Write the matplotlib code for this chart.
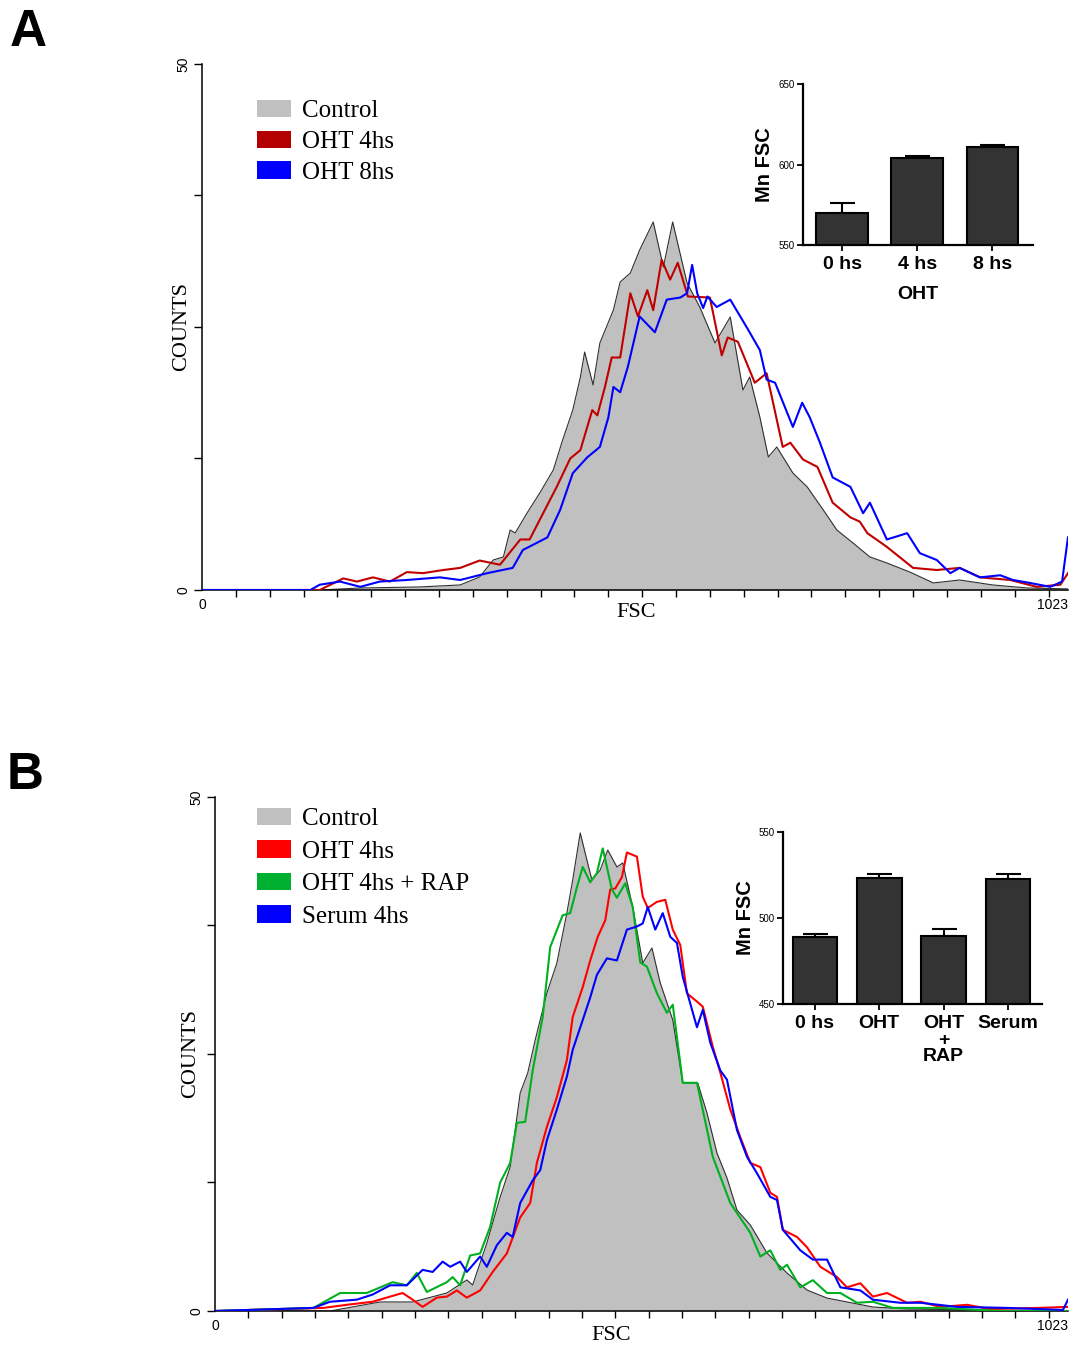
import numpy as np
import matplotlib
matplotlib.use('Agg')
import matplotlib.pyplot as plt
from matplotlib.patches import Patch

SERIF = 'Liberation Serif'
SANS = 'Liberation Sans'

# ---- Panel A: FSC histograms (channel, counts) ----
a_ctrl_ch = [0, 139, 187, 258, 305, 328, 344, 356, 364, 370, 384, 399, 415, 426, 438, 447, 452, 462, 470,
             486, 494, 506, 517, 533, 545, 556, 573, 588, 606, 624, 639, 647, 659, 669, 679, 698, 715,
             734, 750, 769, 789, 809, 836, 864, 895, 934, 975, 1023]
a_ctrl = [0, 0, 0.19, 0.29, 0.48, 1.24, 2.85, 3.14, 5.7, 5.42, 7.32, 9.22, 11.41, 14.26, 17.11, 20.25, 22.62,
          19.49, 23.48, 26.62, 29.28, 30.13, 32.32, 34.98, 30.7, 34.98, 29.18, 26.9, 23.48, 25.95, 19.01,
          20.25, 16.44, 12.64, 13.59, 11.12, 9.79, 7.6, 5.7, 4.47, 3.14, 2.57, 1.71, 0.67, 0.95, 0.48, 0.19, 0.1]

a_oht4_ch = [0, 139, 167, 183, 202, 222, 242, 261, 285, 305, 328, 352, 376, 387, 403, 419, 435, 447, 461,
             467, 476, 484, 494, 506, 515, 526, 533, 543, 553, 562, 574, 600, 614, 621, 633, 653, 667,
             686, 695, 710, 727, 745, 766, 777, 786, 809, 840, 868, 895, 919, 955, 986, 1014, 1023]
a_oht4 = [0, 0, 1.1, 0.8, 1.2, 0.8, 1.7, 1.6, 1.9, 2.1, 2.8, 2.4, 4.8, 4.8, 7.3, 9.8, 12.5, 13.3, 17.1,
          16.6, 19.3, 22.1, 22.1, 28.2, 26.0, 28.5, 26.6, 31.4, 29.5, 31.1, 27.9, 27.8, 22.3, 24.0, 23.6,
          19.7, 20.6, 13.6, 14.0, 12.4, 11.7, 8.3, 6.9, 6.5, 5.4, 4.1, 2.1, 1.9, 2.1, 1.2, 0.95, 0.3, 0.5, 1.6]

a_oht8_ch = [0, 128, 139, 163, 187, 210, 242, 281, 305, 337, 367, 379, 396, 408, 423, 438, 455, 470, 480,
             486, 494, 503, 517, 535, 549, 565, 573, 579, 585, 592, 597, 608, 624, 644, 659, 667, 677,
             698, 709, 718, 730, 745, 766, 781, 789, 809, 833, 848, 868, 884, 895, 919, 943, 958, 978,
             1002, 1016, 1023]
a_oht8 = [0, 0, 0.5, 0.8, 0.3, 0.8, 0.95, 1.2, 0.95, 1.6, 2.1, 3.8, 4.5, 5.0, 7.6, 11.1, 12.6, 13.6, 16.4,
          19.3, 18.8, 21.2, 26.0, 24.5, 27.6, 27.8, 28.2, 30.9, 28.2, 26.8, 27.9, 26.9, 27.6, 24.9, 22.8,
          20.0, 19.7, 15.5, 17.8, 16.4, 14.0, 10.7, 9.8, 7.3, 8.3, 4.8, 5.4, 3.5, 2.85, 1.6, 2.1, 1.2, 1.4,
          0.95, 0.67, 0.3, 0.8, 5.0]

# ---- Panel B ----
b_ctrl_ch = [0, 138, 198, 237, 278, 302, 309, 326, 342, 354, 366, 375, 384, 398, 410, 422, 429, 438, 446,
             452, 462, 471, 482, 489, 501, 513, 524, 534, 549, 561, 579, 590, 602, 614, 626, 642, 662,
             686, 710, 734, 758, 789, 830, 1023]
b_ctrl = [0, 0, 0.88, 0.88, 1.75, 3.02, 2.53, 6.61, 11.09, 14.01, 21.21, 23.15, 26.36, 30.93, 33.85, 38.72,
          41.93, 46.5, 43.87, 41.93, 42.9, 44.84, 43.19, 43.58, 39.3, 33.85, 35.31, 31.91, 28.31, 22.18,
          22.18, 19.26, 15.37, 12.94, 9.82, 8.37, 5.64, 3.7, 2.04, 1.26, 0.88, 0.39, 0.19, 0]

b_oht4_ch = [0, 130, 158, 189, 210, 225, 237, 249, 266, 278, 290, 302, 318, 333, 350, 366, 378, 386, 398,
             410, 422, 429, 441, 450, 459, 468, 474, 480, 488, 494, 506, 513, 519, 530, 540, 549, 558,
             566, 578, 585, 597, 606, 618, 630, 642, 654, 666, 674, 681, 698, 710, 726, 746, 758, 774,
             789, 806, 830, 846, 870, 902, 929, 989, 1022]
b_oht4 = [0, 0.3, 0.6, 0.9, 1.4, 1.75, 1.1, 0.4, 1.3, 1.4, 2.0, 1.3, 2.0, 3.8, 5.6, 9.1, 10.5, 14.4, 17.9,
          20.8, 24.4, 28.6, 31.5, 34.1, 36.4, 38.0, 41.0, 41.1, 42.2, 44.6, 44.2, 40.3, 39.2, 39.8, 40.0,
          37.1, 35.6, 30.9, 30.1, 29.6, 25.7, 23.2, 19.6, 16.9, 14.4, 14.0, 11.5, 11.1, 7.9, 7.2, 6.2, 4.3,
          3.3, 2.3, 2.7, 1.4, 1.75, 0.8, 0.9, 0.4, 0.6, 0.2, 0.3, 0.4]

b_rap_ch = [0, 118, 150, 182, 213, 230, 242, 254, 278, 285, 294, 306, 318, 330, 342, 354, 362, 372, 381,
            393, 402, 417, 426, 434, 441, 450, 458, 465, 476, 482, 492, 501, 510, 518, 530, 542, 549, 561,
            578, 597, 618, 642, 654, 666, 678, 686, 702, 717, 734, 750, 770, 789, 813, 870, 941, 1023]
b_rap = [0, 0.3, 1.75, 1.75, 2.8, 2.5, 3.7, 1.85, 2.8, 3.3, 2.5, 5.4, 5.6, 8.2, 12.5, 14.4, 18.3, 18.4,
         23.4, 28.6, 35.4, 38.5, 38.7, 41.2, 43.2, 41.7, 42.6, 45.0, 41.0, 40.2, 41.6, 39.3, 33.9, 33.5,
         30.9, 29.0, 29.8, 22.2, 22.2, 15.0, 10.5, 7.6, 5.3, 5.9, 4.0, 4.5, 2.3, 3.0, 1.75, 1.75, 0.8, 0.9,
         0.3, 0.3, 0, 0]

b_serum_ch = [0, 118, 138, 170, 189, 210, 230, 249, 261, 273, 282, 294, 302, 318, 326, 338, 350, 357, 366,
              381, 390, 398, 410, 422, 429, 441, 450, 458, 470, 482, 494, 506, 513, 519, 528, 537, 546,
              554, 561, 578, 585, 594, 606, 614, 626, 638, 650, 666, 674, 681, 702, 717, 734, 750, 774,
              789, 822, 846, 890, 950, 1017, 1023]
b_serum = [0, 0.3, 0.9, 1.1, 1.6, 2.5, 2.5, 4.0, 3.8, 4.8, 4.3, 4.8, 3.8, 5.3, 4.3, 6.4, 7.6, 7.2, 10.5,
           12.7, 13.7, 16.6, 19.6, 22.8, 25.4, 28.3, 30.5, 32.7, 34.3, 34.1, 37.1, 37.4, 37.7, 39.3, 37.1,
           38.7, 36.4, 35.8, 32.5, 27.6, 29.3, 26.1, 23.4, 22.5, 17.6, 15.0, 13.4, 11.1, 10.8, 7.9, 5.9,
           5.0, 5.0, 2.3, 2.0, 1.1, 0.8, 0.8, 0.4, 0.3, 0.1, 1.1]

# ---- Insets: mean FSC ----
insA_labels = ['0 hs', '4 hs', '8 hs']
insA_mean = [570.2, 604.2, 611.2]
insA_err = [5.8, 1.0, 1.2]

insB_labels = ['0 hs', 'OHT', 'OHT\n+\nRAP', 'Serum']
insB_mean = [489.2, 523.1, 489.3, 522.5]
insB_err = [1.5, 2.7, 4.3, 3.3]


def histo_panel(ax, curves, legend_items, leg_xy, leg_sp, xlab_xy, ylab_x):
    ax.fill_between(curves[0][0], curves[0][1], color='#c0c0c0', lw=0, zorder=1)
    ax.plot(curves[0][0], curves[0][1], color='#303030', lw=0.8, zorder=2)
    for ch, cnt, col in curves[1:]:
        ax.plot(ch, cnt, color=col, lw=1.5, zorder=3)
    ax.set_xlim(0, 1023)
    ax.set_ylim(0, 50)
    for s in ['top', 'right']:
        ax.spines[s].set_visible(False)
    for s in ['left', 'bottom']:
        ax.spines[s].set_linewidth(1.1)
    ax.set_xticks([0, 1023])
    ax.set_xticklabels(['0', '1023'], fontfamily=SANS, fontsize=10)
    ax.get_xticklabels()[1].set_horizontalalignment('right')
    ax.set_xticks(np.arange(0, 1001, 40), minor=True)
    ax.tick_params(axis='x', which='major', length=0, pad=6)
    ax.tick_params(axis='x', which='minor', length=5, width=1)
    ax.set_yticks([0, 50])
    ax.set_yticklabels(['0', '50'], fontfamily=SANS, fontsize=10, rotation=90, va='center')
    ax.set_yticks([12.5, 25, 37.5], minor=True)
    ax.tick_params(axis='y', which='both', length=6, width=1, pad=2)
    ax.set_xlabel('FSC', fontfamily=SERIF, fontsize=16)
    ax.xaxis.set_label_coords(*xlab_xy)
    ax.set_ylabel('COUNTS', fontfamily=SERIF, fontsize=16)
    ax.yaxis.set_label_coords(ylab_x, 0.5)
    handles = [Patch(facecolor=c, edgecolor='none') for _, c in legend_items]
    ax.legend(handles, [t for t, _ in legend_items], loc='upper left', bbox_to_anchor=leg_xy,
              frameon=False, prop={'family': SERIF, 'size': 18}, handlelength=1.35, handleheight=0.7,
              handletextpad=0.45, labelspacing=leg_sp, borderpad=0, borderaxespad=0)


def inset_bars(ax, labels, mean, err, ylim, xlim, xlabel=None):
    x = np.arange(len(labels))
    ax.bar(x, mean, width=0.69, color='#333333', edgecolor='black', linewidth=1.5, zorder=2)
    ax.errorbar(x, mean, yerr=[np.zeros(len(err)), err], fmt='none', ecolor='black',
                elinewidth=1.5, capsize=9, capthick=1.5, zorder=1)
    ax.set_ylim(*ylim)
    ax.set_xlim(*xlim)
    ax.set_yticks([ylim[0], (ylim[0] + ylim[1]) / 2, ylim[1]])
    ax.set_yticklabels([str(int(v)) for v in ax.get_yticks()], fontfamily=SANS, fontsize=7)
    ax.set_xticks(x)
    ax.set_xticklabels(labels, fontfamily=SANS, fontsize=14, fontweight='bold', linespacing=0.95)
    ax.tick_params(axis='both', length=4, width=1.3, pad=2)
    ax.tick_params(axis='x', pad=4)
    for s in ['top', 'right']:
        ax.spines[s].set_visible(False)
    for s in ['left', 'bottom']:
        ax.spines[s].set_linewidth(1.6)
    ax.set_ylabel('Mn FSC', fontfamily=SANS, fontsize=14.5, fontweight='bold', labelpad=3)
    if xlabel:
        ax.set_xlabel(xlabel, fontfamily=SANS, fontsize=14, fontweight='bold', labelpad=9)
    ax.patch.set_alpha(0)


fig = plt.figure(figsize=(10.74, 13.47), dpi=100)

axA = fig.add_axes([0.1881, 0.5620, 0.8063, 0.3905])
histo_panel(axA,
            [(a_ctrl_ch, a_ctrl, None), (a_oht4_ch, a_oht4, '#c00000'), (a_oht8_ch, a_oht8, '#0000ff')],
            [('Control', '#c0c0c0'), ('OHT 4hs', '#b40000'), ('OHT 8hs', '#0000ff')],
            (0.0635, 0.932), 0.33, (0.501, -0.024), -0.013)

axB = fig.add_axes([0.2002, 0.02673, 0.7942, 0.3816])
histo_panel(axB,
            [(b_ctrl_ch, b_ctrl, None), (b_oht4_ch, b_oht4, '#ff0000'), (b_rap_ch, b_rap, '#00b020'),
             (b_serum_ch, b_serum, '#0000ff')],
            [('Control', '#c0c0c0'), ('OHT 4hs', '#ff0000'), ('OHT 4hs + RAP', '#00b030'),
             ('Serum 4hs', '#0000ff')],
            (0.049, 0.979), 0.4, (0.465, -0.03), -0.017)

insA = fig.add_axes([0.7477, 0.8181, 0.2142, 0.1195])
inset_bars(insA, insA_labels, insA_mean, insA_err, (550, 650), (-0.52, 2.54), xlabel='OHT')

insB = fig.add_axes([0.7293, 0.2546, 0.2406, 0.1277])
inset_bars(insB, insB_labels, insB_mean, insB_err, (450, 550), (-0.49, 3.52))

fig.text(0.009, 0.976, 'A', fontfamily=SANS, fontsize=37, fontweight='bold', va='center')
fig.text(0.006, 0.424, 'B', fontfamily=SANS, fontsize=37, fontweight='bold', va='center')

fig.savefig('out.png', dpi=100)
